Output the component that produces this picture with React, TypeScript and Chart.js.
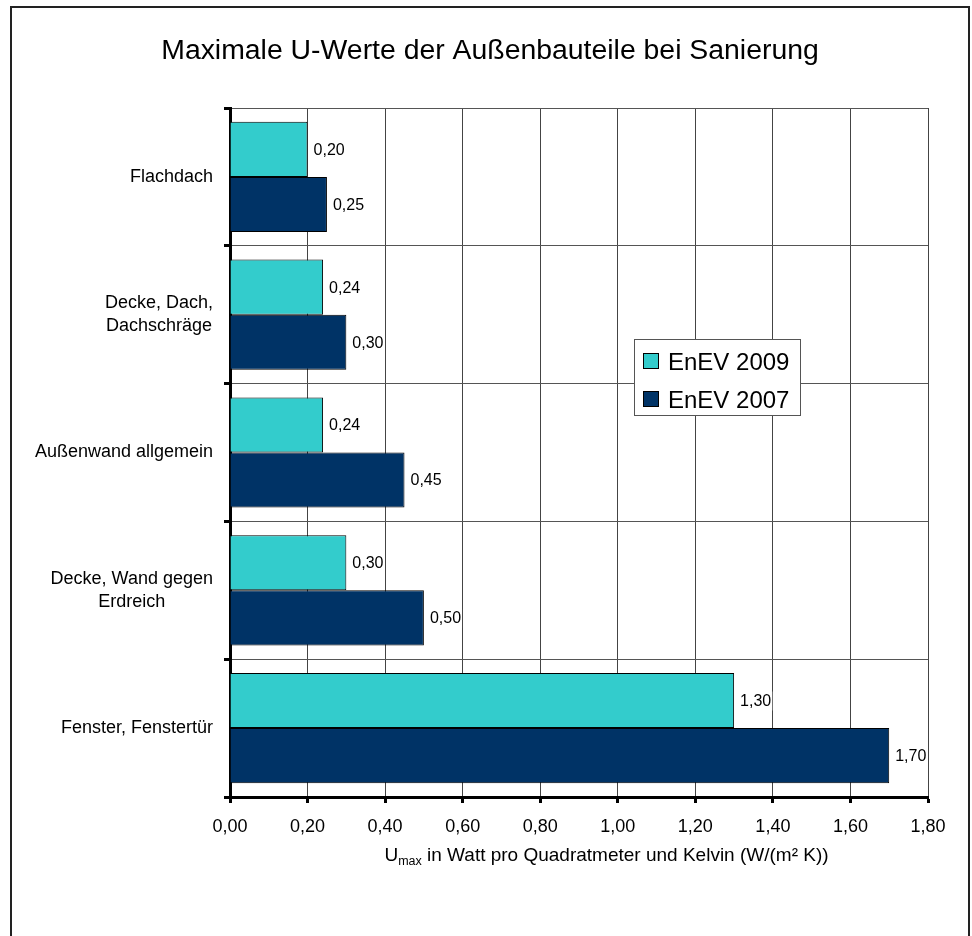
import React, { useEffect, useRef } from 'react';
import { Chart, registerables } from 'chart.js';

Chart.register(...registerables);

const FONT = "'Liberation Sans', Arial, Helvetica, sans-serif";

const titleText = 'Maximale U-Werte der Außenbauteile bei Sanierung';
const categories: string[][] = [
  ['Flachdach'],
  ['Decke, Dach,', 'Dachschräge'],
  ['Außenwand allgemein'],
  ['Decke, Wand gegen', 'Erdreich'],
  ['Fenster, Fenstertür'],
];
const seriesNames = ['EnEV 2009', 'EnEV 2007'];
const enev2009 = [0.2, 0.24, 0.24, 0.3, 1.3];
const enev2007 = [0.25, 0.3, 0.45, 0.5, 1.7];
const seriesColors = ['#33CCCC', '#003366'];
const xMin = 0;
const xMax = 1.8;
const xStep = 0.2;
const axisTitleMain = 'U';
const axisTitleSub = 'max';
const axisTitleRest = ' in Watt pro Quadratmeter und Kelvin (W/(m² K))';

const fmt = (v: number) => v.toFixed(2).replace('.', ',');

const decorPlugin = {
  id: 'decor',
  beforeDraw(chart: any) {
    const ctx = chart.ctx;
    ctx.save();
    ctx.fillStyle = '#ffffff';
    ctx.fillRect(0, 0, chart.width, chart.height);
    ctx.restore();
  },
  afterDatasetsDraw(chart: any) {
    const ctx = chart.ctx;
    ctx.save();
    ctx.font = `16px ${FONT}`;
    ctx.textBaseline = 'middle';
    ctx.textAlign = 'left';
    chart.data.datasets.forEach((ds: any, di: number) => {
      const meta = chart.getDatasetMeta(di);
      meta.data.forEach((bar: any, i: number) => {
        const txt = fmt(ds.data[i]);
        const w = ctx.measureText(txt).width;
        const x = bar.x + 6;
        const y = bar.y;
        ctx.fillStyle = '#ffffff';
        ctx.fillRect(x - 1, y - 9, w + 2, 19);
        ctx.fillStyle = '#000000';
        ctx.fillText(txt, x, y + 1);
      });
    });
    ctx.restore();
  },
  afterDraw(chart: any) {
    const ctx = chart.ctx;
    const area = chart.chartArea;
    ctx.save();

    // Title
    ctx.fillStyle = '#000000';
    ctx.font = `28.4px ${FONT}`;
    ctx.textAlign = 'center';
    ctx.textBaseline = 'alphabetic';
    ctx.fillText(titleText, 490, 59);

    // Y category labels (block right aligned, lines centered)
    const yScale = chart.scales.y;
    ctx.font = `18px ${FONT}`;
    ctx.textBaseline = 'middle';
    ctx.textAlign = 'center';
    const rightEdge = area.left - 17;
    const lh = 23;
    categories.forEach((lines, i) => {
      const cy = yScale.getPixelForTick(i);
      const bw = Math.max(...lines.map((l) => ctx.measureText(l).width));
      const cx = rightEdge - bw / 2;
      const start = cy - ((lines.length - 1) * lh) / 2;
      lines.forEach((l, j) => ctx.fillText(l, cx, start + j * lh));
    });

    // X axis title with subscript
    ctx.textAlign = 'left';
    ctx.textBaseline = 'alphabetic';
    ctx.font = `19px ${FONT}`;
    const wMain = ctx.measureText(axisTitleMain).width;
    ctx.font = `12.5px ${FONT}`;
    const wSub = ctx.measureText(axisTitleSub).width;
    ctx.font = `19px ${FONT}`;
    const wRest = ctx.measureText(axisTitleRest).width;
    const total = wMain + wSub + wRest;
    let tx = 606.5 - total / 2;
    const ty = 861;
    ctx.fillText(axisTitleMain, tx, ty);
    tx += wMain;
    ctx.font = `12.5px ${FONT}`;
    ctx.fillText(axisTitleSub, tx, ty + 4);
    tx += wSub;
    ctx.font = `19px ${FONT}`;
    ctx.fillText(axisTitleRest, tx, ty);

    // Legend
    const lx = 634.5, ly = 339.5, lw = 166, lhgt = 76;
    ctx.fillStyle = '#ffffff';
    ctx.fillRect(lx, ly, lw, lhgt);
    ctx.strokeStyle = '#555555';
    ctx.lineWidth = 1;
    ctx.strokeRect(lx, ly, lw, lhgt);
    ctx.font = `24px ${FONT}`;
    seriesNames.forEach((name, i) => {
      const sy = 353.5 + i * 38;
      ctx.fillStyle = seriesColors[i];
      ctx.fillRect(643.5, sy, 15, 15);
      ctx.strokeStyle = '#000000';
      ctx.strokeRect(643.5, sy, 15, 15);
      ctx.fillStyle = '#000000';
      ctx.textBaseline = 'alphabetic';
      ctx.fillText(name, 668, 370 + i * 38);
    });

    // Outer border
    ctx.strokeStyle = '#222222';
    ctx.lineWidth = 2;
    ctx.strokeRect(11, 7, 958, 940);

    ctx.restore();
  },
};

export default function App() {
  const ref = useRef<HTMLCanvasElement | null>(null);
  useEffect(() => {
    document.body.style.margin = '0';
    const canvas = ref.current;
    if (!canvas) return;
    const chart = new Chart(canvas, {
      type: 'bar',
      data: {
        labels: categories,
        datasets: [
          {
            label: seriesNames[0],
            data: enev2009,
            backgroundColor: seriesColors[0],
            borderColor: '#000000',
            borderWidth: 1,
            categoryPercentage: 0.8,
            barPercentage: 1.0,
          },
          {
            label: seriesNames[1],
            data: enev2007,
            backgroundColor: seriesColors[1],
            borderColor: '#000000',
            borderWidth: 1,
            categoryPercentage: 0.8,
            barPercentage: 1.0,
          },
        ],
      },
      options: {
        indexAxis: 'y',
        responsive: false,
        animation: false,
        devicePixelRatio: 1,
        layout: { padding: { left: 0, top: 108, right: 44, bottom: 0 } },
        plugins: {
          legend: { display: false },
          title: { display: false },
          tooltip: { enabled: false },
        },
        scales: {
          x: {
            type: 'linear',
            min: xMin,
            max: xMax,
            ticks: {
              stepSize: xStep,
              font: { family: FONT, size: 18 },
              color: '#000000',
              padding: 13,
              callback: (v: any) => fmt(Number(v)),
            },
            grid: {
              color: '#444444',
              lineWidth: 1,
              tickLength: 6,
              tickColor: '#000000',
              tickWidth: 3,
            },
            border: { color: '#000000', width: 3 },
            afterFit: (scale: any) => {
              scale.height = 139;
            },
          },
          y: {
            type: 'category',
            offset: true,
            ticks: { display: false },
            grid: {
              offset: true,
              color: '#555555',
              lineWidth: 1,
              tickLength: 6,
              tickColor: '#000000',
              tickWidth: 3,
            },
            border: { color: '#000000', width: 3 },
            afterFit: (scale: any) => {
              scale.width = 230;
            },
          },
        },
      },
      plugins: [decorPlugin],
    } as any);
    return () => chart.destroy();
  }, []);
  return (
    <div style={{ width: 972, height: 936 }}>
      <canvas ref={ref} width={972} height={936} style={{ display: 'block' }} />
    </div>
  );
}
